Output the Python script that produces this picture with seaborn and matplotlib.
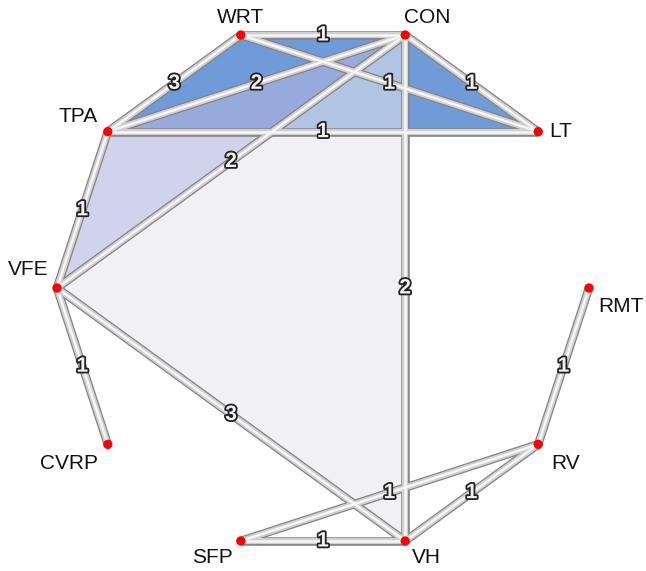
import numpy as np
import pandas as pd
import matplotlib
matplotlib.use("Agg")
import matplotlib.pyplot as plt
import matplotlib.patheffects as pe
from matplotlib.patches import Polygon
import seaborn as sns

# Treatments in the order they sit on the circle (counter-clockwise from the right)
treatments = ["RMT", "LT", "CON", "WRT", "TPA", "VFE", "CVRP", "SFP", "VH", "RV"]

# Direct comparisons and number of studies behind each
edge_from = ["WRT", "WRT", "WRT", "CON", "CON", "CON", "CON", "TPA", "TPA", "VFE", "VFE", "SFP", "SFP", "VH", "RV"]
edge_to   = ["CON", "TPA", "LT",  "TPA", "LT",  "VFE", "VH",  "LT",  "VFE", "CVRP", "VH", "VH",  "RV",  "RV", "RMT"]
n_studies = [1, 3, 1, 2, 1, 2, 2, 1, 1, 1, 3, 1, 1, 1, 1]

# Multi-arm studies shaded as polygons
multiarm_arms = [["WRT", "CON", "LT", "TPA"], ["TPA", "VFE", "CON"], ["CON", "VFE", "VH"]]
multiarm_colors = ["#6f9bd8", "#b1b7df", "#e6e6ee"]
multiarm_alpha = [1.0, 0.6, 0.56]

# Circular layout
W, H = 646, 571
cx, cy, r = 323, 288, 266
ang = np.deg2rad(np.arange(len(treatments)) * 36.0)
nodes = pd.DataFrame({"trt": treatments,
                      "x": cx + r * np.cos(ang),
                      "y": cy - r * np.sin(ang)}).set_index("trt")

label_offset = {"WRT": (0, -18), "CON": (22, -18), "LT": (22, 0), "TPA": (-30, -15),
                "VFE": (-29, -18), "RMT": (32, 18), "CVRP": (-39, 19), "RV": (27, 19),
                "SFP": (-28, 17), "VH": (21, 17)}

sns.set_theme(style="white")
plt.rcParams["font.family"] = ["Liberation Sans", "DejaVu Sans"]

fig = plt.figure(figsize=(W / 100, H / 100), dpi=100)
ax = fig.add_axes([0, 0, 1, 1])

# Shaded multi-arm polygons
for arms, col, a in zip(multiarm_arms, multiarm_colors, multiarm_alpha):
    pts = nodes.loc[arms, ["x", "y"]].to_numpy()
    ax.add_patch(Polygon(pts, closed=True, facecolor=col, edgecolor="none", alpha=a, zorder=1))

edges = pd.DataFrame({"a": edge_from, "b": edge_to, "n": n_studies})
edges["x1"] = nodes.loc[edges["a"], "x"].to_numpy()
edges["y1"] = nodes.loc[edges["a"], "y"].to_numpy()
edges["x2"] = nodes.loc[edges["b"], "x"].to_numpy()
edges["y2"] = nodes.loc[edges["b"], "y"].to_numpy()

# Tube-style edges: dark rim, grey body, light core
for lw, col, z in [(6.2, "#858585", 2), (4.4, "#d0d0d0", 3), (1.8, "#f6f6f6", 4)]:
    for _, e in edges.iterrows():
        ax.plot([e.x1, e.x2], [e.y1, e.y2], color=col, lw=lw,
                solid_capstyle="butt", zorder=z)

# Study counts on the edges
for _, e in edges.iterrows():
    ax.text((e.x1 + e.x2) / 2, (e.y1 + e.y2) / 2, str(e.n), ha="center", va="center",
            fontsize=15, fontweight="bold", color="#f2f2f2", zorder=6,
            path_effects=[pe.withStroke(linewidth=2.6, foreground="#222222")])

# Treatment nodes
sns.scatterplot(data=nodes.reset_index(), x="x", y="y", ax=ax, color="#ff0000",
                s=45, edgecolor="none", zorder=7, legend=False)
ax.set_xlim(0, W)
ax.set_ylim(H, 0)
ax.axis("off")

for t in treatments:
    dx, dy = label_offset[t]
    ax.text(nodes.loc[t, "x"] + dx, nodes.loc[t, "y"] + dy, t, ha="center", va="center",
            fontsize=15, color="#111111", zorder=8)

fig.savefig("out.png", dpi=100, facecolor="white")
